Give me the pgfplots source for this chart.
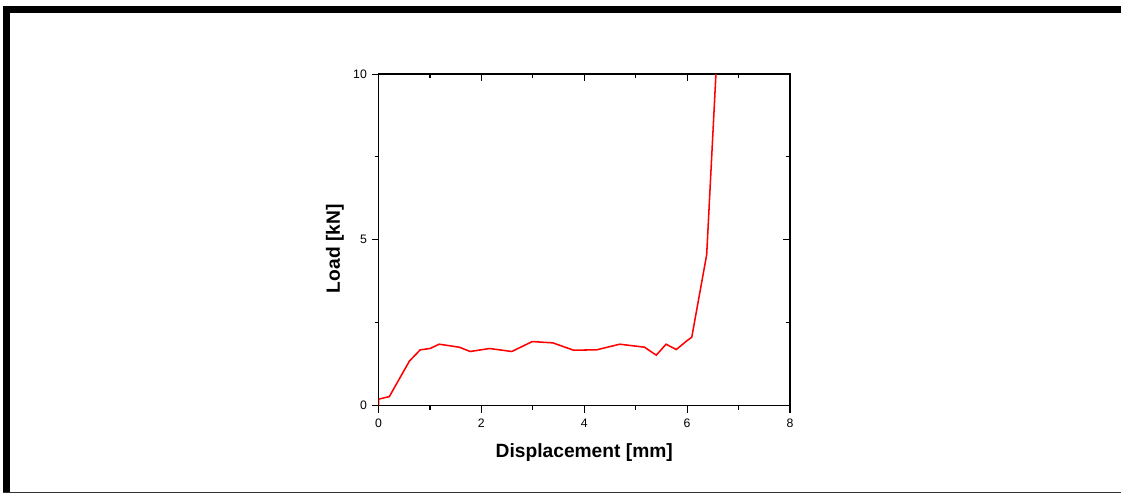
\documentclass[border=0pt]{standalone}
\usepackage{fontspec}
\setmainfont{Liberation Sans}
\usepackage{pgfplots}
\pgfplotsset{compat=1.18}

% Load-displacement record
\pgfplotstableread{
x     y
0.00  0.00
0.00  0.19
0.21  0.27
0.60  1.34
0.81  1.68
1.00  1.72
1.18  1.85
1.57  1.76
1.78  1.63
2.16  1.72
2.59  1.63
2.99  1.93
3.39  1.89
3.79  1.67
4.24  1.68
4.69  1.85
5.17  1.76
5.40  1.52
5.59  1.85
5.79  1.69
6.00  1.96
6.09  2.06
6.38  4.55
6.56  10.00
}\loaddata

\begin{document}
\begin{tikzpicture}
\useasboundingbox (0pt,0pt) rectangle (840.75pt,371.25pt);
% outer frame
\fill[black] (2.25pt,361.5pt) rectangle (840.75pt,366.75pt);
\fill[black] (2.25pt,1.5pt) rectangle (7.5pt,366.75pt);
\draw[black!80,line width=1.1pt] (2.25pt,1.9pt) -- (840.75pt,1.9pt);

\pgfplotsset{
  common/.style={
    scale only axis,
    width=308.6pt, height=248.6pt,
    at={(283.9pt,67.1pt)}, anchor=south west,
    xmin=0, xmax=8, ymin=0, ymax=10,
    xtick={0,2,4,6,8}, ytick={0,5,10},
    minor xtick={1,3,5,7}, minor ytick={2.5,7.5},
    major tick length=5.25pt, minor tick length=3pt,
    every tick/.style={black, line width=0.8pt},
    axis line style={black, line width=0.85pt},
    tick label style={font=\fontsize{9.2}{10}\selectfont},
    xticklabel style={yshift=-1.5pt},
    /pgf/number format/assume math mode=true,
  }
}

% frame with inward ticks on the top and right sides
\begin{axis}[common,
  xtick pos=right, ytick pos=right, tick align=inside,
  xticklabels={}, yticklabels={}]
\end{axis}

\begin{axis}[common,
  xtick pos=left, ytick pos=left, tick align=outside,
  xlabel={Displacement [mm]}, ylabel={Load [kN]},
  label style={font=\fontsize{14.4}{16}\selectfont\bfseries},
  xlabel style={at={(axis description cs:0.5,-0.1554)}, anchor=base},
  ylabel style={at={(axis description cs:-0.106,0.473)}, anchor=center},
  clip=true]
\addplot[red, line width=1.15pt, mark=none] table[x=x,y=y] {\loaddata};
\end{axis}
\end{tikzpicture}
\end{document}
